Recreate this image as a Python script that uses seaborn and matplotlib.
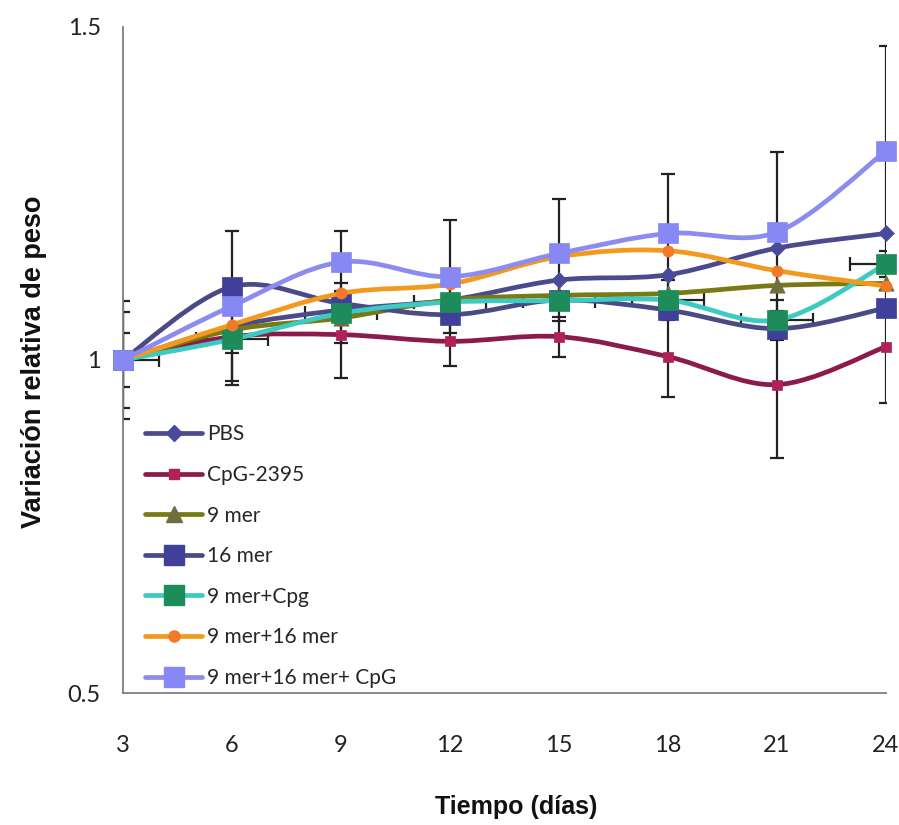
import numpy as np
import pandas as pd
import matplotlib
matplotlib.use("Agg")
import matplotlib.pyplot as plt
import seaborn as sns
from matplotlib.path import Path
from matplotlib.patches import PathPatch
from matplotlib.lines import Line2D

# ---------------- data ----------------
days = [3, 6, 9, 12, 15, 18, 21, 24]
x_ticks = [3, 6, 9, 12, 15, 18, 21, 24]
y_ticks = [0.5, 1.0, 1.5]
y_ticklabels = ["0.5", "1", "1.5"]

series_names = ["PBS", "CpG-2395", "9 mer", "16 mer", "9 mer+Cpg",
                "9 mer+16 mer", "9 mer+16 mer+ CpG"]

pbs = [1.0, 1.05, 1.075, 1.09, 1.12, 1.128, 1.168, 1.19]
cpg2395 = [1.0, 1.035, 1.038, 1.028, 1.035, 1.005, 0.963, 1.02]
mer9 = [1.0, 1.045, 1.063, 1.09, 1.097, 1.10, 1.112, 1.115]
mer16 = [1.0, 1.11, 1.085, 1.068, 1.09, 1.075, 1.047, 1.078]
mer9_cpg = [1.0, 1.031, 1.07, 1.087, 1.089, 1.09, 1.06, 1.144]
mer9_16 = [1.0, 1.053, 1.10, 1.114, 1.155, 1.164, 1.134, 1.111]
mer9_16_cpg = [1.0, 1.081, 1.147, 1.125, 1.16, 1.19, 1.192, 1.314]

yerr_cpg2395 = [0.072, 0.073, 0.065, 0.037, 0.03, 0.06, 0.11, 0.085]
yerr_mer9_cpg = [0.04, 0.02, 0.045, 0.025, 0.03, 0.03, 0.03, 0.02]
xerr_mer9_cpg = [1, 1, 1, 1, 1, 1, 1, 1]
yerr_mer9_16_cpg = [0.088, 0.113, 0.047, 0.085, 0.082, 0.09, 0.12, 0.158]

values = [pbs, cpg2395, mer9, mer16, mer9_cpg, mer9_16, mer9_16_cpg]

# ---------------- styles ----------------
line_colors = ["#4a4a8c", "#8c1a4c", "#7a7a14", "#4a4a84", "#3ccac2", "#f29a1e", "#8c8cf0"]
marker_colors = ["#4a4a9a", "#b0205a", "#6e6e40", "#40409a", "#1e8c5a", "#f07a2a", "#8888f4"]
markers = ["D", "s", "^", "s", "s", "o", "s"]
marker_sizes = [8, 7, 11, 14, 14, 8, 14]

sns.set_style("white")
plt.rcParams["font.family"] = ["Lato", "DejaVu Sans"]

fig = plt.figure(figsize=(8.99, 8.25), dpi=100)
ax = fig.add_axes([0.1368, 0.16, 0.8487, 0.8073])


def smooth_path(xs, ys):
    xs = np.asarray(xs, float)
    ys = np.asarray(ys, float)
    n = len(xs)
    verts = [(xs[0], ys[0])]
    codes = [Path.MOVETO]
    for i in range(n - 1):
        x0, y0 = (xs[i - 1], ys[i - 1]) if i > 0 else (xs[i], ys[i])
        x1, y1 = xs[i], ys[i]
        x2, y2 = xs[i + 1], ys[i + 1]
        x3, y3 = (xs[i + 2], ys[i + 2]) if i + 2 < n else (xs[i + 1], ys[i + 1])
        c1 = (x1 + (x2 - x0) / 6.0, y1 + (y2 - y0) / 6.0)
        c2 = (x2 - (x3 - x1) / 6.0, y2 - (y3 - y1) / 6.0)
        verts += [c1, c2, (x2, y2)]
        codes += [Path.CURVE4, Path.CURVE4, Path.CURVE4]
    return Path(verts, codes)


err_spec = {
    1: (yerr_cpg2395, None),
    4: (yerr_mer9_cpg, xerr_mer9_cpg),
    6: (yerr_mer9_16_cpg, None),
}

for i, (name, vals) in enumerate(zip(series_names, values)):
    z = 3 + i
    patch = PathPatch(smooth_path(days, vals), transform=ax.transData,
                      facecolor="none", edgecolor=line_colors[i], lw=3.4,
                      zorder=z, capstyle="round", joinstyle="round")
    ax.add_patch(patch)
    if i in err_spec:
        ye, xe = err_spec[i]
        ax.errorbar(days, vals, yerr=ye, xerr=xe, fmt="none", ecolor="#222222",
                    elinewidth=1.6, capsize=5, capthick=1.6, zorder=2)
    df = pd.DataFrame({"x": days, "y": vals})
    sns.scatterplot(data=df, x="x", y="y", ax=ax, marker=markers[i],
                    s=marker_sizes[i] ** 2, color=marker_colors[i],
                    edgecolor=marker_colors[i], linewidth=0.5,
                    zorder=z + 0.5, clip_on=False, legend=False)

ax.set_xlim(3, 24)
ax.set_ylim(0.5, 1.5)
ax.set_xticks(x_ticks)
ax.set_xticklabels([str(t) for t in x_ticks])
ax.set_yticks(y_ticks)
ax.set_yticklabels(y_ticklabels)
ax.tick_params(axis="x", length=0, pad=30, labelsize=17, colors="#222222")
ax.tick_params(axis="y", length=0, pad=16, labelsize=17, colors="#222222")
ax.set_xlabel("")
ax.set_ylabel("")
for s in ["top", "right"]:
    ax.spines[s].set_visible(False)
for s in ["left", "bottom"]:
    ax.spines[s].set_color("#7f7f7f")
    ax.spines[s].set_linewidth(1.3)

handles = [Line2D([0], [0], color=line_colors[i], lw=3.4, marker=markers[i],
                  markersize=marker_sizes[i], markerfacecolor=marker_colors[i],
                  markeredgecolor=marker_colors[i])
           for i in range(len(series_names))]
ax.legend(handles, series_names, loc="upper left", bbox_to_anchor=(0.018, 0.416),
          frameon=False, fontsize=15, handlelength=2.74, handletextpad=0.25,
          labelspacing=0.99, borderaxespad=0)

fig.text(0.038, 1 - 362 / 825, "Variación relativa de peso", rotation=90,
         ha="center", va="center", fontsize=19.5, fontweight="bold",
         family=["Liberation Sans", "DejaVu Sans"], color="#111111")
fig.text(516 / 899, 1 - 807 / 825, "Tiempo (días)", ha="center", va="center",
         fontsize=18, fontweight="bold",
         family=["Liberation Sans Narrow", "Liberation Sans", "DejaVu Sans"],
         color="#111111")

fig.savefig("out.png", dpi=100, facecolor="white")
